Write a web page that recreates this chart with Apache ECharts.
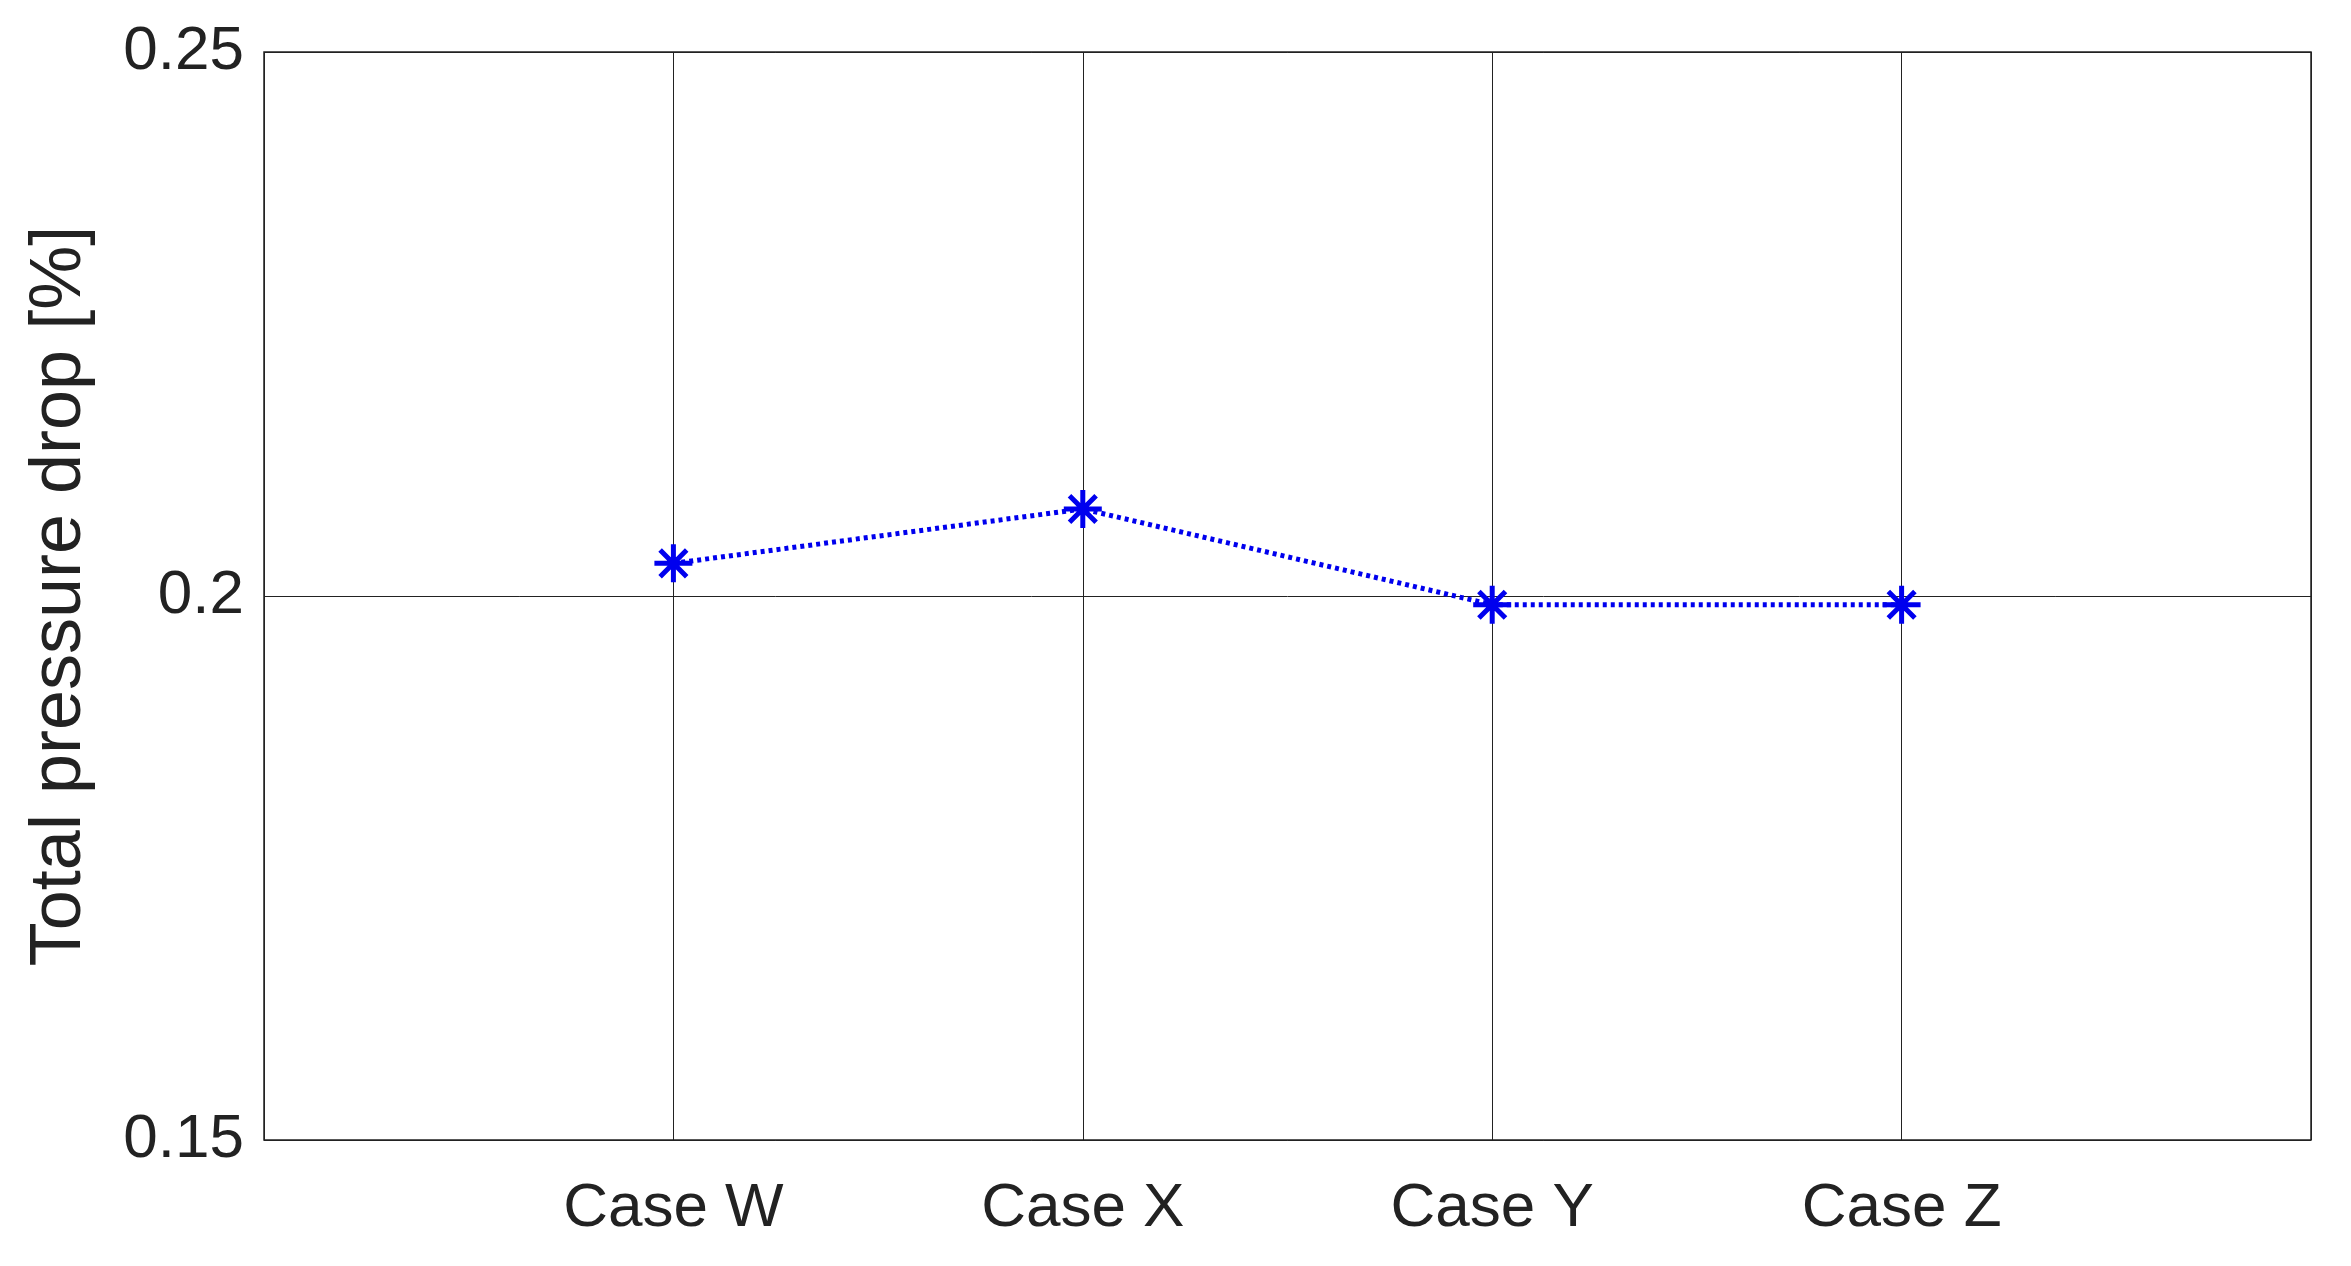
<!DOCTYPE html>
<html><head><meta charset="utf-8">
<script src="https://cdn.jsdelivr.net/npm/echarts@6/dist/echarts.min.js"></script>
<style>html,body{margin:0;padding:0;background:#fff}#c{width:2351px;height:1266px}</style>
</head><body><div id="c"></div>
<script>
const categories = ['Case W','Case X','Case Y','Case Z'];
const values = [0.203, 0.208, 0.1992, 0.1992];
const yTicks = [0.15, 0.2, 0.25];
const chart = echarts.init(document.getElementById('c'));
const star = 'path://M0,-10L0,10M-10,0L10,0M-7,-7L7,7M-7,7L7,-7';
chart.setOption({
  animation:false,
  grid:{left:264,right:40,top:52,bottom:126,show:true,borderColor:'#222',borderWidth:1.5},
  xAxis:{type:'value',min:0,max:5,interval:1,
    axisLine:{show:false},axisTick:{show:false},
    splitLine:{show:true,lineStyle:{color:'#222',width:1}},
    axisLabel:{fontFamily:'Liberation Sans, Arial',fontSize:62,color:'#222',margin:38,
      formatter:v=>categories[v-1]||''}},
  yAxis:{type:'value',min:0.15,max:0.25,interval:0.05,
    name:'Total pressure drop [%]',nameLocation:'middle',nameGap:168,
    nameTextStyle:{fontFamily:'Liberation Sans, Arial',fontSize:72,color:'#222'},
    axisLine:{show:false},axisTick:{show:false},
    splitLine:{show:true,lineStyle:{color:'#222',width:1}},
    axisLabel:{fontFamily:'Liberation Sans, Arial',fontSize:62,color:'#222',margin:20,
      formatter:v=>yTicks.find(t=>Math.abs(t-v)<1e-9)!==undefined?String(+v.toFixed(2)):''}},
  series:[{type:'line',data:values.map((v,i)=>[i+1,v]),
    lineStyle:{color:'#0000ee',width:5,type:[4,4]},
    symbol:star,symbolSize:38,
    itemStyle:{color:'none',borderColor:'#0000ee',borderWidth:5}}]
});
</script></body></html>
